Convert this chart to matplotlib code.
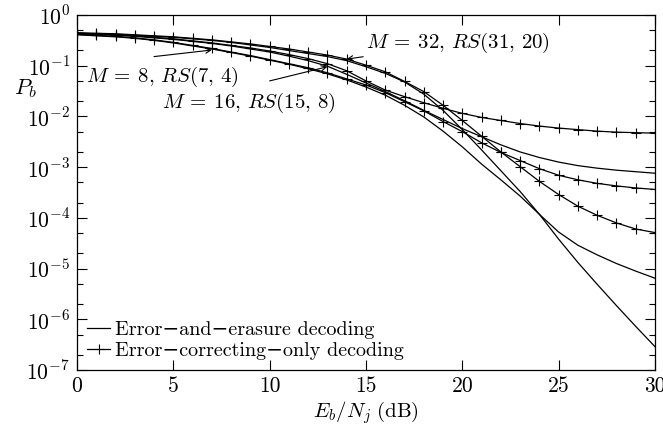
import numpy as np
import matplotlib
matplotlib.use("Agg")
import matplotlib.pyplot as plt
from matplotlib.ticker import LogLocator, NullFormatter, FuncFormatter
from matplotlib.lines import Line2D

plt.rcParams['font.family'] = ['cmr10', 'DejaVu Serif']
plt.rcParams['mathtext.fontset'] = 'cm'
plt.rcParams['axes.formatter.use_mathtext'] = True

# Eb/Nj in dB
ebnj = list(range(0, 31))

# log10(Pb), one list per curve
# M = 32, RS(31,20)
m32_corr = [-0.35, -0.36, -0.37, -0.39, -0.41, -0.43, -0.46, -0.49, -0.53, -0.57, -0.62,
            -0.67, -0.73, -0.79, -0.87, -0.99, -1.12, -1.31, -1.51, -1.78, -2.08,
            -2.39, -2.70, -2.99, -3.28, -3.54, -3.77, -3.95, -4.10, -4.22, -4.29]
m32_eras = [-0.36, -0.37, -0.38, -0.40, -0.42, -0.44, -0.47, -0.50, -0.54, -0.59, -0.64,
            -0.70, -0.76, -0.82, -0.90, -1.02, -1.15, -1.32, -1.56, -1.88, -2.26,
            -2.66, -3.07, -3.48, -3.93, -4.42, -4.88, -5.31, -5.73, -6.14, -6.54]
# M = 16, RS(15,8)
m16_corr = [-0.36, -0.37, -0.39, -0.41, -0.44, -0.47, -0.51, -0.55, -0.60, -0.65, -0.71,
            -0.78, -0.86, -0.96, -1.10, -1.30, -1.48, -1.61, -1.73, -1.84, -1.94,
            -2.02, -2.08, -2.14, -2.19, -2.23, -2.26, -2.29, -2.31, -2.32, -2.33]
m16_eras = [-0.37, -0.38, -0.40, -0.42, -0.45, -0.48, -0.52, -0.56, -0.61, -0.67, -0.73,
            -0.81, -0.90, -1.01, -1.17, -1.34, -1.51, -1.69, -1.88, -2.06, -2.24,
            -2.40, -2.56, -2.70, -2.81, -2.90, -2.97, -3.02, -3.06, -3.09, -3.12]
# M = 8, RS(7,4)
m8_corr = [-0.38, -0.40, -0.42, -0.45, -0.49, -0.54, -0.60, -0.66, -0.73, -0.80, -0.88,
           -0.96, -1.04, -1.14, -1.26, -1.38, -1.53, -1.71, -1.89, -2.10, -2.30,
           -2.52, -2.71, -2.87, -3.03, -3.16, -3.25, -3.32, -3.37, -3.41, -3.44]
m8_eras = [-0.39, -0.41, -0.43, -0.46, -0.50, -0.55, -0.61, -0.67, -0.74, -0.81, -0.89,
           -0.97, -1.06, -1.16, -1.28, -1.42, -1.58, -1.78, -2.01, -2.29, -2.60,
           -2.94, -3.25, -3.57, -3.93, -4.28, -4.54, -4.73, -4.90, -5.05, -5.19]

legend_labels = ['Error\u2212and\u2212erasure decoding', 'Error\u2212correcting\u2212only decoding']

fig = plt.figure(figsize=(6.63, 4.25), dpi=100)
ax = fig.add_axes([0.1161, 0.1294, 0.8718, 0.8353])

lw = 0.9
for curve in [m32_eras, m16_eras, m8_eras]:
    ax.plot(ebnj, 10.0 ** np.array(curve), color='black', lw=lw)
for curve in [m32_corr, m16_corr, m8_corr]:
    ax.plot(ebnj, 10.0 ** np.array(curve), color='black', lw=lw,
            marker='+', ms=7, mew=0.8)

ax.set_yscale('log')
ax.set_xlim(0, 30)
ax.set_ylim(1e-7, 1)
ax.set_xticks([0, 5, 10, 15, 20, 25, 30])
ax.yaxis.set_major_locator(LogLocator(base=10, numticks=10))
ax.yaxis.set_minor_locator(LogLocator(base=10, subs=[2, 5], numticks=10))
ax.yaxis.set_minor_formatter(NullFormatter())
ax.yaxis.set_major_formatter(FuncFormatter(lambda v, p: r'$10^{%d}$' % round(np.log10(v))))
ax.xaxis.set_major_formatter(FuncFormatter(lambda v, p: '%d' % v))

ax.tick_params(which='both', direction='in', top=True, right=True, labelsize=15.5, width=0.8)
ax.tick_params(which='major', length=7.5, pad=5)
ax.tick_params(which='minor', length=4)
for s in ax.spines.values():
    s.set_linewidth(0.9)

ax.set_xlabel(r'$E_b/N_j\ (\mathrm{dB})$', fontsize=15, labelpad=2)
ax.set_ylabel(r'$P_b$', fontsize=16, rotation=0, labelpad=0)
ax.yaxis.set_label_coords(-0.09, 0.76)

arrow = dict(arrowstyle='->', lw=0.8, color='black', shrinkA=0, shrinkB=0, mutation_scale=9)
ax.annotate(r'$M\:=\:32,\,RS(31,\,20)$', xy=(14, 10 ** -0.87), xytext=(15.0, 10 ** -0.55),
            fontsize=15, va='center', ha='left', arrowprops=arrow)
ax.annotate('', xy=(7.0, 10 ** -0.69), xytext=(4.0, 10 ** -0.82), arrowprops=arrow)
ax.text(0.45, 10 ** -1.22, r'$M\:=\:8,\,RS(7,\,4)$', fontsize=15, va='center', ha='left')
ax.annotate('', xy=(13.0, 10 ** -1.02), xytext=(10.0, 10 ** -1.30), arrowprops=arrow)
ax.text(4.4, 10 ** -1.74, r'$M\:=\:16,\,RS(15,\,8)$', fontsize=15, va='center', ha='left')

handles = [Line2D([], [], color='black', lw=lw),
           Line2D([], [], color='black', lw=lw, marker='+', ms=7, mew=0.8)]
ax.legend(handles, legend_labels, loc='lower left', frameon=False, fontsize=14.5,
          handlelength=1.15, handletextpad=0.25, labelspacing=0.15,
          borderaxespad=0.3, borderpad=0.2)

fig.savefig('out.png', dpi=100)
